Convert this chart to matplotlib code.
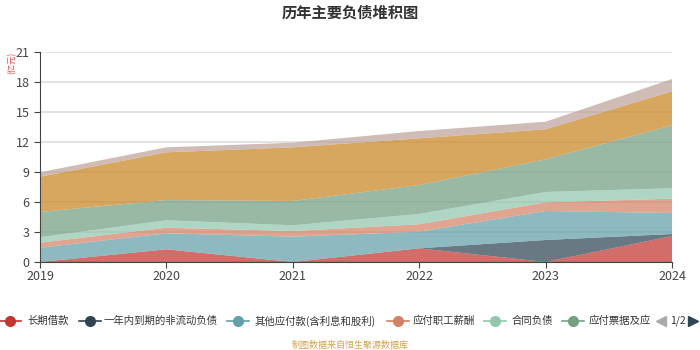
import matplotlib
matplotlib.use('Agg')
import matplotlib.pyplot as plt
from matplotlib.lines import Line2D

plt.rcParams['font.family'] = ['Noto Sans CJK SC', 'DejaVu Sans']

years = [2019, 2020, 2021, 2022, 2023, 2024]

# 亿元 (stack order bottom -> top)
long_loans = [0.0, 1.27, 0.0, 1.37, 0.0, 2.6]
current_noncurrent = [0.0, 0.0, 0.0, 0.0, 2.2, 0.2]
other_payables = [1.43, 1.6, 2.53, 1.66, 2.9, 2.1]
staff_pay = [0.5, 0.56, 0.57, 0.74, 0.87, 1.43]
contract_liab = [0.54, 0.74, 0.57, 1.03, 1.03, 1.04]
notes_accounts = [2.53, 2.03, 2.43, 2.9, 3.27, 6.3]
short_loans = [3.53, 4.77, 5.37, 4.67, 3.0, 3.4]
other_liab = [0.44, 0.5, 0.46, 0.73, 0.76, 1.23]

series = [long_loans, current_noncurrent, other_payables, staff_pay,
          contract_liab, notes_accounts, short_loans, other_liab]
names = ['长期借款', '一年内到期的非流动负债', '其他应付款(含利息和股利)', '应付职工薪酬',
         '合同负债', '应付票据及应付账款', '短期借款', '其他负债']
colors = ['#c23531', '#2f4554', '#61a0a8', '#d48265',
          '#91c7ae', '#749f83', '#ca8622', '#bda29a']

fig = plt.figure(figsize=(7, 3.5), dpi=100)
ax = fig.add_axes([40 / 700, 88 / 350, 632 / 700, 210 / 350])

ax.set_ylim(0, 21)
ax.set_xlim(2019, 2024)
ax.set_yticks(range(0, 22, 3))
ax.set_xticks(years)
ax.grid(axis='y', color='#dedede', linewidth=1.2, zorder=0)
ax.set_axisbelow(True)

ax.stackplot(years, *series, colors=colors, alpha=0.72, linewidth=0, zorder=2)

for s in ['top', 'right']:
    ax.spines[s].set_visible(False)
for s in ['left', 'bottom']:
    ax.spines[s].set_color('#444444')
ax.tick_params(colors='#444444', labelsize=9, length=4)
ax.tick_params(axis='x', pad=2)

fig.text(0.5, 0.965, '历年主要负债堆积图', ha='center', va='center',
         fontsize=11, fontweight='bold', color='#333333')
fig.text(12 / 700, 1 - 63 / 350, '(亿元)', rotation=90, ha='center', va='center',
         fontsize=6, color='#e84a4a')

# legend row (first page of 2)
ly = 1 - 321 / 350
legend_pos = [(10, 27), (90, 104), (238, 255), (398, 413), (495, 512), (573, 589)]
for (mx, tx), name, c in zip(legend_pos, names[:6], colors[:6]):
    fig.add_artist(Line2D([(mx - 11) / 700, (mx + 11) / 700], [ly, ly],
                          color=c, linewidth=1.2, transform=fig.transFigure))
    fig.add_artist(Line2D([mx / 700], [ly], marker='o', markersize=7,
                          color=c, transform=fig.transFigure))
    label = name if name != '应付票据及应付账款' else '应付票据及应'
    fig.text(tx / 700, ly, label, ha='left', va='center', fontsize=7.5, color='#333333')

fig.add_artist(Line2D([661 / 700], [ly], marker='<', markersize=7, color='#aaaaaa',
                      linestyle='none', transform=fig.transFigure))
fig.text(678 / 700, ly, '1/2', ha='center', va='center', fontsize=7.5, color='#333333')
fig.add_artist(Line2D([693 / 700], [ly], marker='>', markersize=7, color='#2f4554',
                      linestyle='none', transform=fig.transFigure))

fig.text(0.5, 1 - 345 / 350, '制图数据来自恒生聚源数据库', ha='center', va='center',
         fontsize=6.5, color='#d4a24c')

fig.savefig('out.png', dpi=100)
